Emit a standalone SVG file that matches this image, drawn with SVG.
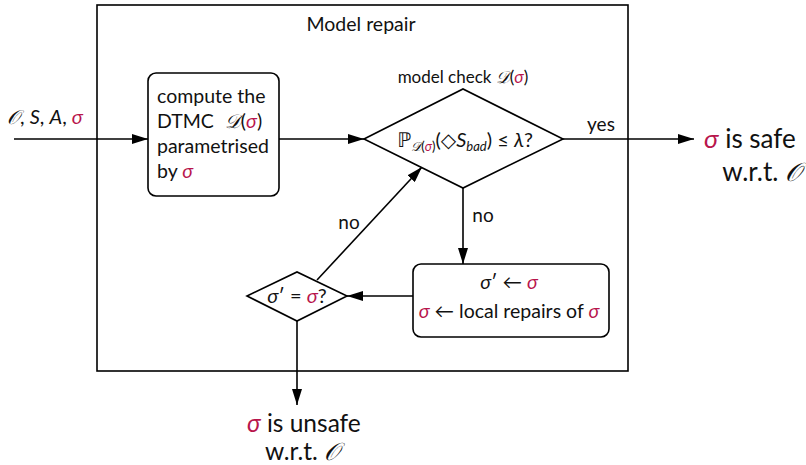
<svg xmlns="http://www.w3.org/2000/svg" width="806" height="465" viewBox="0 0 806 465">
<style>
text{font-family:Lato,"DejaVu Sans",sans-serif;fill:#111}
.s{fill:#b8154c;font-style:italic}
.i{font-style:italic}
.c{font-family:"DejaVu Serif",serif;font-style:italic}
.ln{stroke:#000;stroke-width:1.6;fill:none}
.nd{stroke:#000;stroke-width:1.6;fill:#fff}
</style>
<defs>
<marker id="ahb" viewBox="0 0 16 10" refX="16" refY="5" markerWidth="16" markerHeight="10" markerUnits="userSpaceOnUse" orient="auto">
<path d="M0,0 L16,5 L0,10 z" fill="#000"/>
</marker>
</defs>
<g id="frame">
<rect x="97" y="5" width="531" height="366" fill="none" stroke="#000" stroke-width="1.6"/>
<text x="361" y="31" font-size="19.5" text-anchor="middle">Model repair</text>
</g>
<g id="connectors">
<path class="ln" d="M14,139 H148" marker-end="url(#ahb)"/>
<path class="ln" d="M279,139 H364" marker-end="url(#ahb)"/>
<path class="ln" d="M563,139 H694" marker-end="url(#ahb)"/>
<path class="ln" d="M463,188 V264" marker-end="url(#ahb)"/>
<path class="ln" d="M413,296 H347" marker-end="url(#ahb)"/>
<path class="ln" d="M317,280 L422,167" marker-end="url(#ahb)"/>
<path class="ln" d="M297,321 V405" marker-end="url(#ahb)"/>
<text x="7" y="124" font-size="20"><tspan class="c">𝒪</tspan>, <tspan class="i">S</tspan>, <tspan class="i">A</tspan>, <tspan class="s">σ</tspan></text>
<text x="601" y="131" font-size="19" text-anchor="middle">yes</text>
<text x="483" y="222" font-size="19" text-anchor="middle">no</text>
<text x="349" y="229" font-size="19" text-anchor="middle">no</text>
</g>
<g id="compute">
<rect class="nd" x="148" y="73" width="131" height="123" rx="8"/>
<text x="157" y="103" font-size="19.5">compute the</text>
<text x="157" y="128" font-size="19.5">DTMC <tspan class="c" dx="6">𝒟</tspan>(<tspan class="s">σ</tspan>)</text>
<text x="157" y="153" font-size="19.5">parametrised</text>
<text x="157" y="178" font-size="19.5">by <tspan class="s">σ</tspan></text>
</g>
<g id="check">
<polygon class="nd" points="364,139 463,89 563,139 463,188"/>
<text x="463" y="83" font-size="17" text-anchor="middle">model check <tspan class="c">𝒟</tspan>(<tspan class="s">σ</tspan>)</text>
<text x="465" y="147" font-size="20" text-anchor="middle">ℙ<tspan font-size="13" dy="4"><tspan class="c">𝒟</tspan>(<tspan class="s">σ</tspan>)</tspan><tspan dy="-4">(◇<tspan class="i">S</tspan></tspan><tspan font-size="13" dy="4" class="i">bad</tspan><tspan dy="-4">) ≤ <tspan class="i">λ</tspan>?</tspan></text>
</g>
<g id="repair">
<rect class="nd" x="413" y="264" width="196" height="73" rx="8"/>
<text x="509" y="289" font-size="19.5" text-anchor="middle"><tspan class="i">σ</tspan>′ ← <tspan class="s">σ</tspan></text>
<text x="509" y="318" font-size="19.5" text-anchor="middle"><tspan class="s">σ</tspan> ← local repairs of <tspan class="s">σ</tspan></text>
</g>
<g id="compare">
<polygon class="nd" points="247,296 297,272 347,296 297,321"/>
<text x="297" y="303" font-size="20" text-anchor="middle"><tspan class="i">σ</tspan>′ = <tspan class="s">σ</tspan>?</text>
</g>
<g id="safe">
<text x="704" y="148" font-size="26"><tspan class="s">σ</tspan> is safe</text>
<text x="801" y="181" font-size="26" text-anchor="end">w.r.t. <tspan class="c">𝒪</tspan></text>
</g>
<g id="unsafe">
<text x="247" y="432" font-size="24.5"><tspan class="s">σ</tspan> is unsafe</text>
<text x="265" y="460" font-size="24.5">w.r.t. <tspan class="c">𝒪</tspan></text>
</g>
</svg>
